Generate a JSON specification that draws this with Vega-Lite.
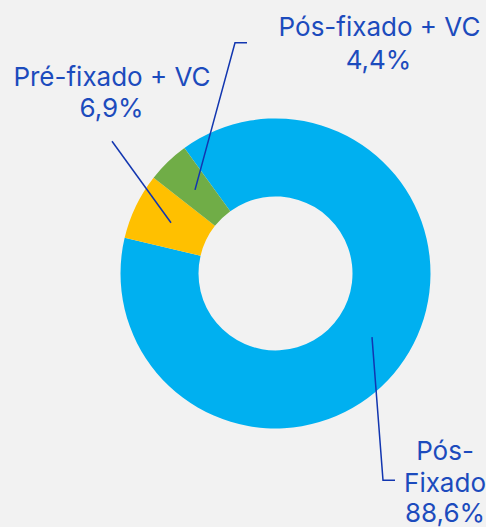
{
  "$schema": "https://vega.github.io/schema/vega-lite/v6.json",
  "width": 486,
  "height": 527,
  "autosize": {"type": "fit", "contains": "padding"},
  "padding": 0,
  "background": "#f2f2f2",
  "config": {"view": {"stroke": null}, "font": "Inter"},
  "datasets": {
    "slices": [
      {"category": "Pós-Fixado", "share": 88.6, "order": 1},
      {"category": "Pré-fixado + VC", "share": 6.9, "order": 2},
      {"category": "Pós-fixado + VC", "share": 4.4, "order": 3}
    ],
    "leaders": [
      {"series": "Pós-fixado + VC", "pt": 1, "x": -80.5, "y": 84},
      {"series": "Pós-fixado + VC", "pt": 2, "x": -40.5, "y": 232},
      {"series": "Pós-fixado + VC", "pt": 3, "x": -28.5, "y": 232},
      {"series": "Pré-fixado + VC", "pt": 1, "x": -104.5, "y": 51},
      {"series": "Pré-fixado + VC", "pt": 2, "x": -163.5, "y": 133},
      {"series": "Pós-Fixado", "pt": 1, "x": 96.5, "y": -64},
      {"series": "Pós-Fixado", "pt": 2, "x": 107.5, "y": -208},
      {"series": "Pós-Fixado", "pt": 3, "x": 119.5, "y": -208}
    ],
    "labels": [
      {"text": "Pós-fixado + VC", "x": 104, "y": 239},
      {"text": "4,4%", "x": 103, "y": 206},
      {"text": "Pré-fixado + VC", "x": -163.5, "y": 189},
      {"text": "6,9%", "x": -164, "y": 157},
      {"text": "Pós-", "x": 169.5, "y": -188},
      {"text": "Fixado", "x": 169.5, "y": -220},
      {"text": "88,6%", "x": 169.5, "y": -250}
    ]
  },
  "layer": [
    {
      "data": {"name": "slices"},
      "mark": {"type": "arc", "innerRadius": 77, "outerRadius": 155},
      "encoding": {
        "x": {"datum": 0, "type": "quantitative", "scale": {"domain": [-275.5, 210.5]}, "axis": null},
        "y": {"datum": 0, "type": "quantitative", "scale": {"domain": [-252, 275]}, "axis": null},
        "theta": {"field": "share", "type": "quantitative", "stack": true, "scale": {"range": [-0.628, 5.655]}},
        "order": {"field": "order"},
        "color": {
          "field": "category",
          "type": "nominal",
          "scale": {"domain": ["Pós-Fixado", "Pré-fixado + VC", "Pós-fixado + VC"], "range": ["#00b0f0", "#ffc000", "#70ad47"]},
          "legend": null
        }
      }
    },
    {
      "data": {"name": "leaders"},
      "mark": {"type": "line", "color": "#1236b0", "strokeWidth": 1.5},
      "encoding": {
        "x": {"field": "x", "type": "quantitative", "scale": {"domain": [-275.5, 210.5]}, "axis": null},
        "y": {"field": "y", "type": "quantitative", "scale": {"domain": [-252, 275]}, "axis": null},
        "detail": {"field": "series"},
        "order": {"field": "pt"}
      }
    },
    {
      "data": {"name": "labels"},
      "mark": {"type": "text", "fontSize": 26, "color": "#1c4bbd", "align": "center", "baseline": "alphabetic", "font": "Inter"},
      "encoding": {
        "x": {"field": "x", "type": "quantitative", "scale": {"domain": [-275.5, 210.5]}, "axis": null},
        "y": {"field": "y", "type": "quantitative", "scale": {"domain": [-252, 275]}, "axis": null},
        "text": {"field": "text"}
      }
    }
  ]
}
